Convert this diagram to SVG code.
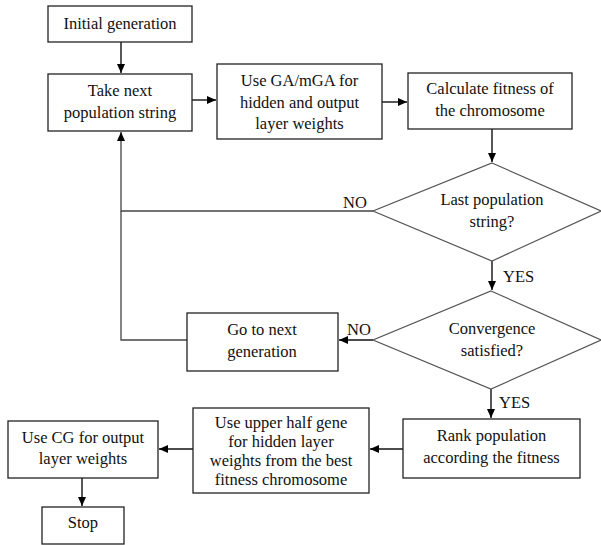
<svg xmlns="http://www.w3.org/2000/svg" width="601" height="545" viewBox="0 0 601 545">
<defs>
<marker id="ah" markerWidth="10" markerHeight="10" refX="9" refY="5" orient="auto" markerUnits="userSpaceOnUse">
<path d="M0,1 L9,5 L0,9 Z" fill="#000"/>
</marker>
<style>
.box{fill:#fff;stroke:#222;stroke-width:1.3}
.dia{fill:#fff;stroke:#555;stroke-width:1.2}
.t{font-family:"Liberation Serif","Times New Roman",serif;font-size:16.5px;fill:#111;text-anchor:middle}
.lbl{font-family:"Liberation Serif","Times New Roman",serif;font-size:16.5px;fill:#111}
.c{fill:none;stroke:#111;stroke-width:1.4}
.cg{fill:none;stroke:#444;stroke-width:1.3}
</style>
</defs>
<rect width="601" height="545" fill="#fff"/>
<g id="connectors">
<path class="c" d="M121,42 V73" marker-end="url(#ah)"/>
<path class="c" d="M192,100 H216" marker-end="url(#ah)"/>
<path class="c" d="M382,102 H407" marker-end="url(#ah)"/>
<path class="c" d="M492,129 V162" marker-end="url(#ah)"/>
<path class="cg" d="M373,211 H121 V132" marker-end="url(#ah)"/>
<path class="c" d="M492,261 V290" marker-end="url(#ah)"/>
<path class="c" d="M373,340 H339" marker-end="url(#ah)"/>
<path class="cg" d="M187,340 H121 V211"/>
<path class="c" d="M491,389 V418" marker-end="url(#ah)"/>
<path class="c" d="M403,449 H370" marker-end="url(#ah)"/>
<path class="c" d="M193,449 H159" marker-end="url(#ah)"/>
<path class="c" d="M82,478 V506" marker-end="url(#ah)"/>
<text class="lbl" x="343" y="208">NO</text>
<text class="lbl" x="503" y="282">YES</text>
<text class="lbl" x="347" y="335">NO</text>
<text class="lbl" x="499" y="408">YES</text>
</g>
<g id="initial">
<rect class="box" x="48" y="6" width="144" height="36"/>
<text class="t" x="120" y="29">Initial generation</text>
</g>
<g id="take-next">
<rect class="box" x="48" y="74" width="144" height="57"/>
<text class="t" x="120" y="96">Take next</text>
<text class="t" x="120" y="118">population string</text>
</g>
<g id="use-ga">
<rect class="box" x="217" y="64" width="165" height="75"/>
<text class="t" x="299.5" y="86">Use GA/mGA for</text>
<text class="t" x="299.5" y="107.5">hidden and output</text>
<text class="t" x="299.5" y="129">layer weights</text>
</g>
<g id="calc-fitness">
<rect class="box" x="408" y="73" width="164" height="56"/>
<text class="t" x="490" y="94">Calculate fitness of</text>
<text class="t" x="490" y="116">the chromosome</text>
</g>
<g id="last-pop">
<polygon class="dia" points="492,163 601,211 492,261 373,211"/>
<text class="t" x="492" y="205">Last population</text>
<text class="t" x="492" y="227">string?</text>
</g>
<g id="convergence">
<polygon class="dia" points="491,291 601,340 491,389 373,340"/>
<text class="t" x="492" y="334">Convergence</text>
<text class="t" x="492" y="356">satisfied?</text>
</g>
<g id="next-gen">
<rect class="box" x="187" y="313" width="151" height="58"/>
<text class="t" x="262" y="335">Go to next</text>
<text class="t" x="262" y="357">generation</text>
</g>
<g id="rank">
<rect class="box" x="403" y="419" width="177" height="59"/>
<text class="t" x="491.5" y="441">Rank population</text>
<text class="t" x="491.5" y="463">according the fitness</text>
</g>
<g id="upper-half">
<rect class="box" x="193" y="408" width="176" height="85"/>
<text class="t" x="281" y="428">Use upper half gene</text>
<text class="t" x="281" y="447">for hidden layer</text>
<text class="t" x="281" y="466">weights from the best</text>
<text class="t" x="281" y="485">fitness chromosome</text>
</g>
<g id="use-cg">
<rect class="box" x="8" y="421" width="150" height="57"/>
<text class="t" x="83" y="443">Use CG for output</text>
<text class="t" x="83" y="464">layer weights</text>
</g>
<g id="stop">
<rect class="box" x="42" y="507" width="82" height="37"/>
<text class="t" x="83" y="528">Stop</text>
</g>
</svg>
